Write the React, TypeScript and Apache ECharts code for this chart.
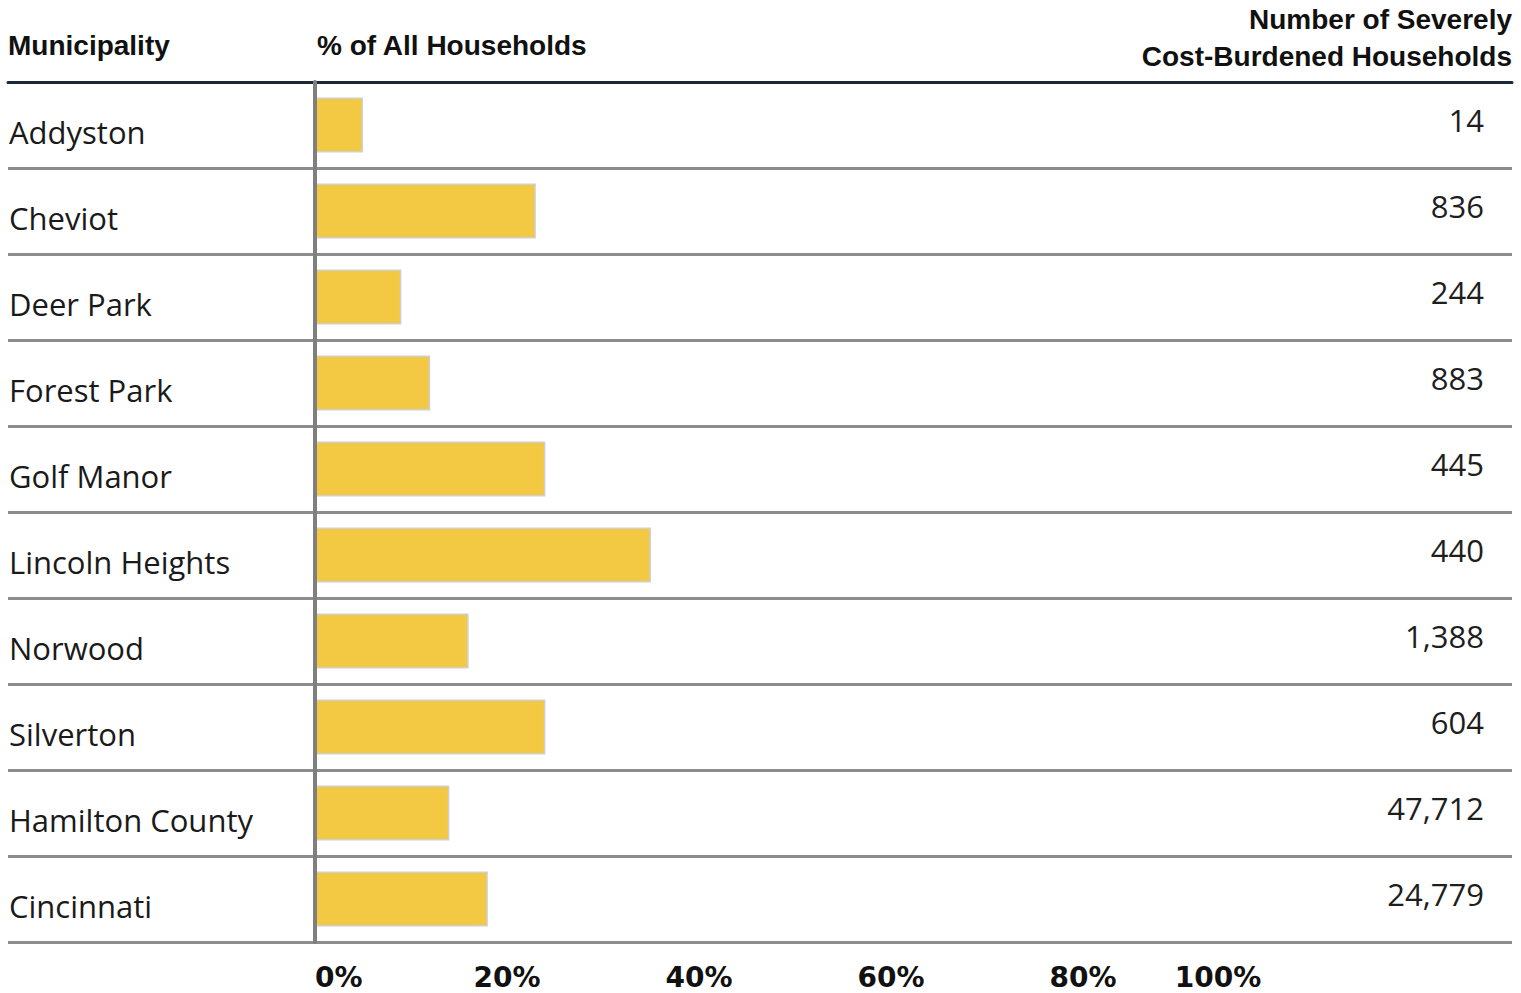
import React, { useEffect, useRef } from "react";
import * as echarts from "echarts";

const categories = [
  "Addyston",
  "Cheviot",
  "Deer Park",
  "Forest Park",
  "Golf Manor",
  "Lincoln Heights",
  "Norwood",
  "Silverton",
  "Hamilton County",
  "Cincinnati",
];
const sharePct = [5, 23, 9, 12, 24, 35, 16, 24, 14, 18];
const counts = [14, 836, 244, 883, 445, 440, 1388, 604, 47712, 24779];
const tickValues = [0, 20, 40, 60, 80, 100];
const headerLeft = "Municipality";
const headerMid = "% of All Households";
const headerRight = ["Number of Severely", "Cost-Burdened Households"];

const FONT = "'Liberation Sans', Arial, sans-serif";
const TICK_FONT = "'DejaVu Sans', 'Liberation Sans', sans-serif";
const BODY_FONT = "'Open Sans', 'Liberation Sans', sans-serif";

export default function App() {
  const ref = useRef<HTMLDivElement>(null);

  useEffect(() => {
    if (!ref.current) return;
    const chart = echarts.init(ref.current, undefined, { renderer: "svg" });
    const countLabels = counts.map((c) => c.toLocaleString("en-US"));

    chart.setOption({
      animation: false,
      backgroundColor: "#ffffff",
      grid: [
        { left: 315, right: 246, top: 82, bottom: 51, containLabel: false },
        { left: 8, right: 9, top: 82, bottom: 51, containLabel: false },
      ],
      xAxis: [
        {
          gridIndex: 0,
          type: "value",
          min: 0,
          max: 100,
          interval: 20,
          axisLine: { show: false },
          axisTick: { show: false },
          splitLine: { show: false },
          axisLabel: {
            margin: 23,
            fontFamily: TICK_FONT,
            fontWeight: "bold",
            fontSize: 28,
            lineHeight: 24,
            color: "#111111",
            alignMinLabel: "left",
            formatter: (v: number) =>
              tickValues.indexOf(v) < 0 ? "" : v === 100 ? "{h|100%}" : v + "%",
            rich: {
              h: {
                fontFamily: TICK_FONT,
                fontWeight: "bold",
                fontSize: 28,
                lineHeight: 24,
                color: "#111111",
                padding: [0, 114, 0, 0],
              },
            },
          },
        },
        {
          gridIndex: 1,
          type: "value",
          min: 0,
          max: 1,
          position: "top",
          axisLine: { show: true, lineStyle: { color: "#1d2738", width: 3 } },
          axisTick: { show: false },
          axisLabel: { show: false },
          splitLine: { show: false },
        },
      ],
      yAxis: [
        {
          gridIndex: 0,
          type: "category",
          data: categories,
          inverse: true,
          z: 5,
          axisLine: { show: true, lineStyle: { color: "#7f7f7f", width: 4 } },
          axisTick: { show: false },
          axisLabel: { show: false },
          splitLine: { show: false },
        },
        {
          gridIndex: 1,
          type: "category",
          data: categories,
          inverse: true,
          position: "left",
          axisLine: { show: false },
          axisTick: { show: false },
          splitLine: {
            show: true,
            interval: 0,
            lineStyle: { color: "#8c8c8c", width: 3 },
          },
          axisLabel: {
            inside: true,
            margin: 1,
            align: "left",
            verticalAlign: "top",
            lineHeight: 13,
            fontFamily: BODY_FONT,
            fontSize: 31,
            color: "#1a1a1a",
          },
        },
        {
          gridIndex: 1,
          type: "category",
          data: countLabels,
          inverse: true,
          position: "right",
          axisLine: { show: false },
          axisTick: { show: false },
          splitLine: { show: false },
          axisLabel: {
            inside: true,
            margin: 28,
            align: "right",
            verticalAlign: "bottom",
            lineHeight: 11,
            fontFamily: BODY_FONT,
            fontSize: 31,
            color: "#1e1e1e",
          },
        },
      ],
      graphic: [
        {
          type: "text",
          left: 8,
          top: 31,
          style: {
            text: headerLeft,
            font: `bold 28px ${FONT}`,
            fill: "#111111",
          },
        },
        {
          type: "text",
          left: 317,
          top: 31,
          style: {
            text: headerMid,
            font: `bold 28px ${FONT}`,
            fill: "#111111",
          },
        },
        {
          type: "text",
          right: 9,
          top: 5,
          style: {
            text: headerRight[0],
            font: `bold 28px ${FONT}`,
            fill: "#111111",
          },
        },
        {
          type: "text",
          right: 9,
          top: 42,
          style: {
            text: headerRight[1],
            font: `bold 28px ${FONT}`,
            fill: "#111111",
          },
        },
      ],
      series: [
        {
          type: "bar",
          xAxisIndex: 0,
          yAxisIndex: 0,
          data: sharePct,
          barWidth: 55,
          itemStyle: {
            color: "#F3C944",
            borderColor: "#cfcfcf",
            borderWidth: 1.5,
          },
          silent: true,
        },
      ],
    });

    return () => chart.dispose();
  }, []);

  return (
    <div
      ref={ref}
      style={{ position: "fixed", left: 0, top: 0, width: 1521, height: 993 }}
    />
  );
}
